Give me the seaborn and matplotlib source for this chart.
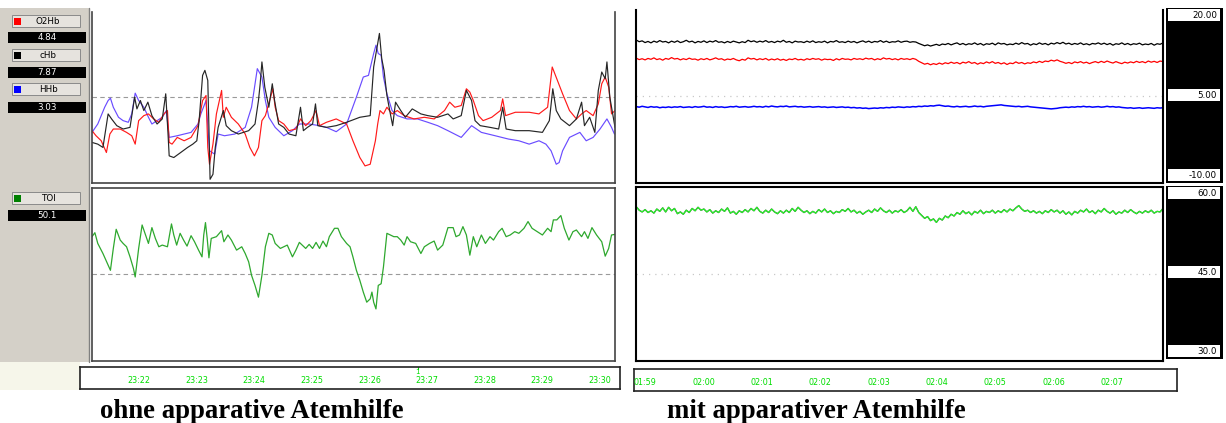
import numpy as np
import pandas as pd
import matplotlib
matplotlib.use("Agg")
import matplotlib.pyplot as plt
import matplotlib.transforms as mtransforms
from matplotlib.patches import Rectangle
import seaborn as sns

# ---------------- data ----------------
# left recording (time in minutes after 23:00), concentrations in umol/l, TOI in %
o2hb_t = [21.18, 21.25, 21.34, 21.43, 21.49, 21.55, 21.67, 21.78, 21.87, 21.93, 21.99, 22.08, 22.16, 22.25,
          22.34, 22.43, 22.49, 22.52, 22.57, 22.66, 22.78, 22.90, 23.02, 23.10, 23.16, 23.19, 23.22, 23.28,
          23.34, 23.43, 23.46, 23.51, 23.60, 23.72, 23.84, 23.92, 24.00, 24.07, 24.13, 24.19, 24.28, 24.32,
          24.36, 24.42, 24.51, 24.60, 24.72, 24.80, 24.89, 24.98, 25.07, 25.13, 25.25, 25.42, 25.60, 25.71,
          25.83, 25.92, 26.01, 26.10, 26.14, 26.18, 26.24, 26.30, 26.39, 26.48, 26.60, 26.77, 26.95, 27.12,
          27.30, 27.39, 27.48, 27.59, 27.68, 27.74, 27.80, 27.89, 27.97, 28.12, 28.27, 28.31, 28.36, 28.53,
          28.77, 28.94, 29.09, 29.17, 29.26, 29.35, 29.47, 29.59, 29.68, 29.76, 29.88, 29.97, 30.03, 30.09,
          30.15, 30.20, 30.26]
o2hb_v = [-0.82, -1.71, -2.59, -4.65, -1.41, -0.53, -0.53, -1.12, -1.71, -3.18, 0.94, 1.82, 2.12, 1.24,
          0.65, 2.12, 2.71, -2.88, -3.18, -2.00, -2.59, -2.00, 0.06, 4.47, 5.35, -3.76, -6.71, -3.18,
          2.12, 6.24, 1.53, 3.29, 1.53, 0.35, -1.41, -3.76, -5.24, -3.76, 0.94, 1.82, 5.06, 6.53,
          3.29, 0.94, 0.35, -0.82, -0.53, 1.24, 0.06, 0.94, 2.71, 0.06, 0.65, 1.24, 0.35, -2.59,
          -5.53, -7.00, -6.71, -2.59, 0.35, 2.71, 2.12, 3.29, 2.12, 2.71, 1.82, 1.24, 1.53, 1.24,
          2.71, 4.18, 3.29, 3.59, 6.53, 5.94, 4.47, 1.82, 0.94, 1.53, 2.71, 4.76, 1.82, 2.41,
          2.41, 2.12, 3.29, 10.35, 8.00, 5.65, 2.71, 1.24, 2.12, 2.71, 1.82, 3.88, 7.41, 8.59,
          6.82, 2.12, 2.71]

chb_t = [21.18, 21.28, 21.37, 21.46, 21.52, 21.61, 21.72, 21.84, 21.92, 21.96, 22.02, 22.08, 22.15, 22.22,
         22.31, 22.40, 22.46, 22.50, 22.52, 22.60, 22.72, 22.84, 22.93, 23.00, 23.04, 23.10, 23.14, 23.19,
         23.21, 23.23, 23.28, 23.32, 23.37, 23.46, 23.51, 23.60, 23.72, 23.90, 24.01, 24.07, 24.10, 24.13,
         24.18, 24.25, 24.31, 24.35, 24.42, 24.51, 24.60, 24.72, 24.80, 24.85, 24.92, 25.01, 25.06, 25.10,
         25.25, 25.42, 25.60, 25.83, 26.01, 26.07, 26.13, 26.17, 26.21, 26.25, 26.30, 26.36, 26.40, 26.45,
         26.54, 26.62, 26.74, 26.89, 27.01, 27.18, 27.36, 27.45, 27.59, 27.68, 27.77, 27.83, 27.92, 28.09,
         28.24, 28.31, 28.37, 28.53, 28.77, 29.00, 29.12, 29.18, 29.24, 29.32, 29.47, 29.59, 29.68, 29.73,
         29.82, 29.91, 29.97, 30.03, 30.09, 30.12, 30.17, 30.26]
chb_v = [-2.88, -3.18, -3.76, 2.12, 1.24, 0.06, -0.53, -0.24, 5.06, 3.00, 4.47, 2.71, 4.18, 1.82,
         0.35, 1.24, 5.65, -1.41, -5.24, -5.53, -4.65, -3.76, -3.18, -2.59, 0.94, 8.88, 9.76, 8.00,
         -0.24, -9.35, -8.47, -3.76, -0.24, 2.71, 0.06, -0.82, -1.41, -0.82, 0.35, 4.47, 7.41, 11.24,
         6.82, 3.29, 7.41, 4.47, 0.35, -0.24, -1.41, -1.71, 3.29, -0.82, -0.24, 0.35, 3.88, 0.06,
         -0.24, 0.06, 0.65, 1.53, 1.82, 10.35, 13.88, 16.24, 11.82, 9.76, 5.35, 2.12, 0.06, 4.18,
         2.71, 1.53, 3.00, 2.12, 1.82, 1.53, 2.12, 1.24, 1.82, 6.24, 4.47, 0.94, 0.06, -0.24,
         -0.53, 3.29, -0.53, -0.82, -0.82, -1.12, 0.94, 6.53, 2.71, 1.24, 0.06, 1.24, 4.18, 0.06,
         1.53, -1.12, 6.24, 9.47, 8.29, 11.24, 5.06, -0.24]

hhb_t = [21.18, 21.28, 21.40, 21.46, 21.50, 21.55, 21.64, 21.72, 21.81, 21.87, 21.93, 21.99, 22.08, 22.16,
         22.22, 22.31, 22.40, 22.47, 22.52, 22.66, 22.78, 22.90, 23.02, 23.07, 23.16, 23.22, 23.31, 23.37,
         23.48, 23.66, 23.84, 23.95, 24.05, 24.13, 24.19, 24.25, 24.36, 24.51, 24.66, 24.78, 24.95, 25.13,
         25.25, 25.42, 25.60, 25.77, 25.89, 25.98, 26.07, 26.11, 26.15, 26.20, 26.24, 26.30, 26.39, 26.48,
         26.65, 26.83, 27.01, 27.18, 27.36, 27.59, 27.77, 27.94, 28.18, 28.41, 28.59, 28.77, 28.94, 29.06,
         29.15, 29.24, 29.29, 29.35, 29.47, 29.65, 29.76, 29.88, 30.00, 30.12, 30.20, 30.25]
hhb_v = [-1.12, 0.35, 3.29, 4.47, 4.88, 3.29, 1.53, 0.94, 0.65, 2.12, 5.76, 4.47, 3.29, 1.53,
         0.35, 0.94, 1.53, 2.71, -2.00, -1.71, -1.41, -1.12, 0.35, 2.12, 4.47, -4.35, -4.94, -1.41,
         -1.71, -1.41, -0.24, 3.29, 10.06, 8.59, 4.47, 1.53, -0.24, -1.71, -0.82, 0.35, 0.35, 0.06,
         -0.24, -1.00, 0.35, 5.06, 8.59, 8.88, 12.71, 14.18, 12.71, 12.41, 8.59, 5.65, 2.71, 1.82,
         1.24, 1.24, 0.65, 0.06, -0.82, -2.00, 0.06, -1.12, -1.71, -2.29, -2.59, -3.18, -2.59, -3.18,
         -4.35, -6.71, -6.41, -4.35, -2.00, -1.12, -2.59, -2.00, -0.53, 1.24, -0.24, -1.41]

toi_t = [21.18, 21.23, 21.28, 21.37, 21.46, 21.50, 21.55, 21.60, 21.67, 21.72, 21.78, 21.84, 21.90, 21.93,
         21.99, 22.05, 22.11, 22.16, 22.22, 22.28, 22.34, 22.40, 22.49, 22.56, 22.60, 22.65, 22.71, 22.77,
         22.83, 22.90, 22.96, 23.03, 23.09, 23.12, 23.15, 23.18, 23.21, 23.25, 23.34, 23.43, 23.47, 23.54,
         23.60, 23.69, 23.78, 23.84, 23.90, 23.95, 24.01, 24.07, 24.13, 24.19, 24.25, 24.31, 24.36, 24.45,
         24.51, 24.57, 24.66, 24.72, 24.78, 24.83, 24.89, 24.95, 25.01, 25.07, 25.13, 25.19, 25.25, 25.30,
         25.39, 25.45, 25.51, 25.60, 25.66, 25.71, 25.77, 25.83, 25.89, 25.95, 26.01, 26.04, 26.07, 26.11,
         26.15, 26.20, 26.24, 26.30, 26.36, 26.42, 26.48, 26.54, 26.60, 26.65, 26.71, 26.80, 26.89, 26.95,
         27.04, 27.12, 27.18, 27.27, 27.36, 27.45, 27.50, 27.56, 27.62, 27.68, 27.74, 27.80, 27.86, 27.94,
         28.01, 28.09, 28.15, 28.24, 28.30, 28.37, 28.44, 28.52, 28.59, 28.68, 28.75, 28.82, 28.91, 29.00,
         29.09, 29.15, 29.19, 29.25, 29.32, 29.38, 29.46, 29.53, 29.59, 29.68, 29.73, 29.79, 29.86, 29.94,
         30.03, 30.09, 30.15, 30.20, 30.26]
toi_v = [51.56, 52.25, 50.39, 48.64, 46.60, 45.73, 49.52, 52.84, 50.97, 50.39, 49.81, 48.06, 46.02, 44.57,
         49.52, 53.59, 51.85, 50.39, 53.13, 51.26, 49.81, 50.10, 49.81, 53.77, 51.85, 50.10, 52.14, 50.97,
         49.92, 51.73, 50.68, 49.23, 48.06, 51.85, 54.00, 51.26, 47.89, 51.26, 51.56, 52.60, 50.68, 51.85,
         50.97, 49.23, 49.81, 48.64, 47.19, 44.86, 43.11, 41.07, 44.86, 49.81, 52.14, 51.85, 50.39, 49.52,
         49.81, 50.10, 48.06, 49.23, 50.57, 50.10, 49.52, 50.22, 49.52, 50.57, 49.52, 50.80, 49.81, 51.56,
         53.01, 53.01, 51.56, 50.39, 49.81, 48.06, 45.73, 43.98, 41.95, 40.20, 40.78, 41.95, 40.20, 39.03,
         43.11, 43.40, 46.31, 52.14, 51.85, 51.56, 51.56, 50.97, 50.10, 51.56, 50.68, 50.39, 48.64, 49.81,
         50.39, 50.80, 49.23, 50.10, 53.13, 53.13, 51.56, 51.85, 53.30, 51.85, 48.35, 51.56, 49.81, 51.85,
         50.39, 51.56, 50.97, 52.43, 53.01, 51.56, 51.85, 52.43, 52.14, 53.01, 54.18, 53.01, 52.43, 51.85,
         53.01, 52.43, 54.47, 54.47, 55.22, 53.01, 50.97, 52.43, 52.72, 51.56, 52.43, 51.26, 53.13, 51.85,
         50.68, 48.18, 49.52, 51.85, 51.96]

# right recording (time in minutes after 01:00), sampled evenly
right_t = np.linspace(58.85, 67.87, 180)
chb_r = [14.8, 14.5, 14.65, 14.35, 14.55, 14.3, 14.6, 14.4, 14.7, 14.45, 14.55, 14.3,
         14.6, 14.4, 14.65, 14.35, 14.5, 14.75, 14.45, 14.6, 14.3, 14.55, 14.4, 14.65,
         14.35, 14.6, 14.45, 14.7, 14.4, 14.5, 14.3, 14.55, 14.35, 14.6, 14.45, 14.3,
         14.5, 14.35, 14.75, 14.5, 14.65, 14.4, 14.6, 14.45, 14.7, 14.4, 14.55, 14.35,
         14.6, 14.45, 14.75, 14.4, 14.55, 14.3, 14.6, 14.45, 14.5, 14.35, 14.6, 14.4,
         14.65, 14.35, 14.5, 14.4, 14.6, 14.3, 14.55, 14.45, 14.7, 14.4, 14.5, 14.35,
         14.6, 14.4, 14.55, 14.3, 14.5, 14.65, 14.4, 14.6, 14.35, 14.55, 14.45, 14.7,
         14.4, 14.6, 14.35, 14.5, 14.45, 14.65, 14.4, 14.55, 14.6, 14.4, 14.5, 14.45,
         14.2, 14.0, 13.8, 13.95, 13.75, 13.9, 14.05, 13.85, 14.1, 14.0, 14.2, 13.95,
         14.15, 14.3, 14.0, 14.2, 13.95, 14.15, 14.05, 14.3, 14.0, 14.2, 13.9, 14.15,
         14.05, 14.25, 13.95, 14.3, 14.1, 14.2, 13.95, 14.1, 14.0, 14.25, 14.05, 14.35,
         14.1, 14.2, 13.9, 14.15, 14.0, 14.3, 14.05, 14.2, 13.95, 14.25, 14.1, 14.35,
         14.15, 14.4, 14.1, 14.25, 14.0, 14.2, 14.05, 14.3, 14.0, 14.15, 13.95, 14.2,
         14.1, 14.3, 14.05, 14.25, 14.0, 14.2, 13.9, 14.15, 14.05, 14.3, 14.0, 14.2,
         13.95, 14.15, 14.05, 14.25, 13.95, 14.1, 14.0, 14.2, 13.9, 14.15, 14.05, 14.3]
o2hb_r = [11.65, 11.4, 11.55, 11.35, 11.6, 11.45, 11.7, 11.4, 11.55, 11.3, 11.6, 11.45,
          11.75, 11.5, 11.6, 11.35, 11.55, 11.4, 11.65, 11.45, 11.5, 11.3, 11.55, 11.4,
          11.6, 11.35, 11.5, 11.7, 11.45, 11.55, 11.3, 11.5, 11.4, 11.6, 11.35, 11.2,
          11.45, 11.3, 11.7, 11.5, 11.6, 11.35, 11.55, 11.4, 11.6, 11.3, 11.5, 11.35,
          11.55, 11.3, 11.45, 11.25, 11.5, 11.4, 11.6, 11.35, 11.45, 11.3, 11.55, 11.4,
          11.6, 11.45, 11.55, 11.3, 11.5, 11.4, 11.45, 11.25, 11.55, 11.35, 11.6, 11.45,
          11.5, 11.35, 11.6, 11.45, 11.55, 11.4, 11.65, 11.5, 11.6, 11.35, 11.55, 11.4,
          11.7, 11.5, 11.6, 11.4, 11.55, 11.35, 11.6, 11.45, 11.55, 11.4, 11.6, 11.45,
          11.1, 10.85, 10.6, 10.75, 10.5, 10.7, 10.55, 10.8, 10.6, 10.85, 10.7, 10.95,
          10.75, 10.9, 10.65, 10.95, 10.8, 11.05, 10.75, 10.9, 10.6, 10.85, 10.7, 11.0,
          10.8, 11.05, 10.75, 10.9, 10.65, 10.85, 10.55, 10.8, 10.7, 11.0, 10.75, 10.9,
          10.65, 10.85, 10.75, 11.0, 10.85, 11.1, 10.9, 11.15, 11.05, 11.3, 11.15, 11.35,
          11.1, 10.95, 10.75, 10.9, 10.7, 11.0, 10.85, 11.05, 10.8, 10.95, 10.7, 10.9,
          11.05, 10.85, 11.1, 10.9, 11.15, 10.95, 10.8, 11.05, 10.85, 10.7, 10.95, 10.8,
          11.0, 10.85, 11.1, 10.9, 11.05, 10.85, 11.15, 10.95, 11.1, 10.9, 11.15, 11.05]
hhb_r = [3.25, 3.15, 3.3, 3.2, 3.1, 3.25, 3.15, 3.2, 3.05, 3.15, 3.1, 3.2,
         3.1, 3.2, 3.15, 3.25, 3.1, 3.15, 3.2, 3.1, 3.25, 3.15, 3.2, 3.3,
         3.15, 3.2, 3.1, 3.25, 3.15, 3.2, 3.1, 3.15, 3.25, 3.2, 3.3, 3.15,
         3.2, 3.25, 3.15, 3.2, 3.3, 3.2, 3.25, 3.15, 3.3, 3.2, 3.35, 3.25,
         3.2, 3.3, 3.25, 3.35, 3.2, 3.25, 3.3, 3.2, 3.25, 3.15, 3.2, 3.25,
         3.15, 3.2, 3.25, 3.15, 3.2, 3.1, 3.15, 3.2, 3.1, 3.15, 3.2, 3.1,
         3.15, 3.05, 3.1, 3.0, 3.05, 2.95, 3.0, 2.9, 2.95, 3.0, 2.95, 3.05,
         3.0, 3.1, 3.05, 3.15, 3.1, 3.2, 3.15, 3.1, 3.2, 3.15, 3.25, 3.2,
         3.3, 3.25, 3.35, 3.3, 3.4, 3.35, 3.45, 3.5, 3.4, 3.3, 3.35, 3.25,
         3.2, 3.3, 3.2, 3.25, 3.3, 3.2, 3.25, 3.35, 3.25, 3.3, 3.2, 3.3,
         3.35, 3.4, 3.45, 3.5, 3.55, 3.45, 3.4, 3.35, 3.3, 3.25, 3.3, 3.2,
         3.25, 3.3, 3.2, 3.15, 3.1, 3.05, 3.0, 2.95, 2.9, 2.85, 2.9, 2.95,
         3.05, 3.1, 3.15, 3.1, 3.2, 3.15, 3.25, 3.2, 3.3, 3.2, 3.25, 3.15,
         3.2, 3.25, 3.15, 3.2, 3.3, 3.2, 3.25, 3.15, 3.2, 3.1, 3.05, 3.0,
         3.05, 2.95, 3.0, 3.05, 2.95, 3.0, 3.05, 3.0, 2.95, 3.05, 3.0, 3.05]
toi_r = [56.6, 56.0, 55.7, 56.1, 55.6, 55.9, 55.5, 56.2, 55.8, 56.4, 55.7, 56.5,
         55.9, 56.3, 55.4, 55.7, 55.3, 56.0, 55.6, 56.3, 55.9, 56.5, 56.0, 56.2,
         55.7, 56.1, 55.5, 55.9, 55.6, 56.2, 55.8, 56.4, 55.5, 55.8, 55.3, 55.9,
         55.6, 56.1, 55.7, 56.3, 55.9, 56.5, 55.8, 55.5, 56.0, 55.6, 56.2, 55.7,
         55.4, 55.9, 55.5, 56.0, 55.6, 56.3, 55.8, 56.5, 56.0, 55.6, 55.9, 55.4,
         55.8, 55.5, 56.1, 55.7, 56.2, 55.6, 55.9, 55.4, 55.8, 55.6, 56.1, 55.8,
         56.3, 55.7, 56.0, 55.5, 55.8, 55.3, 55.7, 56.0, 55.6, 56.2, 55.8, 56.4,
         55.9, 55.6, 56.0, 55.5, 55.9, 55.7, 56.1, 55.6, 55.9, 56.5, 55.8, 56.6,
         55.6, 55.1, 54.6, 54.9, 54.2, 54.5, 53.9, 54.6, 54.3, 55.0, 54.7, 55.3,
         55.0, 55.6, 55.3, 55.9, 55.4, 55.7, 55.2, 55.8, 55.5, 56.0, 55.4, 55.8,
         55.6, 56.0, 55.5, 55.9, 55.6, 56.1, 55.7, 56.2, 55.9, 56.4, 56.8, 56.2,
         55.8, 56.0, 55.6, 55.9, 55.5, 55.8, 55.4, 55.9, 55.6, 56.1, 55.7, 56.0,
         55.5, 55.9, 55.3, 55.7, 55.2, 55.8, 55.5, 56.0, 55.7, 56.2, 55.6, 55.9,
         55.4, 56.0, 55.7, 56.3, 55.8, 55.5, 55.9, 55.3, 55.7, 55.5, 56.0, 55.6,
         56.1, 55.7, 55.4, 55.8, 55.5, 55.9, 55.6, 56.0, 55.5, 55.8, 55.7, 56.3]

left_tick_pos = [22, 23, 24, 25, 26, 27, 28, 29, 30]
left_tick_lab = ["23:22", "23:23", "23:24", "23:25", "23:26", "23:27", "23:28", "23:29", "23:30"]
right_tick_pos = [59, 60, 61, 62, 63, 64, 65, 66, 67]
right_tick_lab = ["01:59", "02:00", "02:01", "02:02", "02:03", "02:04", "02:05", "02:06", "02:07"]
legend_names = ["O2Hb", "cHb", "HHb"]
legend_values = ["4.84", "7.87", "3.03"]
legend_colors = ["#ff0000", "#000000", "#0000ff"]
toi_name, toi_value = "TOI", "50.1"
conc_scale = ["20.00", "5.00", "-10.00"]
toi_scale = ["60.0", "45.0", "30.0"]

# ---------------- figure ----------------
sns.set_style("white")
plt.rcParams["font.family"] = ["DejaVu Sans"]
W, H = 1226, 423
fig = plt.figure(figsize=(W / 100, H / 100), dpi=100)
fig.patch.set_facecolor("white")

bg = fig.add_axes([0, 0, 1, 1])
bg.set_xlim(0, W)
bg.set_ylim(H, 0)
bg.axis("off")


def px_axes(x0, y0, x1, y1):
    return fig.add_axes([x0 / W, 1 - y1 / H, (x1 - x0) / W, (y1 - y0) / H])


# sidebar
bg.add_patch(Rectangle((0, 8), 90, 354, fc="#d4d0c8", ec="none"))
bg.add_patch(Rectangle((0, 362), 80, 28, fc="#f6f6ea", ec="none"))
bg.plot([89, 89], [8, 362], color="#808080", lw=1.0)
btn_y = [15, 49, 83]
val_y = [32, 67, 102]
for name, val, col, by, vy in zip(legend_names, legend_values, legend_colors, btn_y, val_y):
    bg.add_patch(Rectangle((12, by), 68, 12, fc="#e6e3de", ec="#8a8a8a", lw=0.7))
    bg.add_patch(Rectangle((14, by + 3), 7, 7, fc=col, ec="none"))
    bg.text(48, by + 6.3, name, ha="center", va="center", fontsize=6.3, color="black")
    bg.add_patch(Rectangle((8, vy), 78, 11, fc="black", ec="none"))
    bg.text(47, vy + 5.8, val, ha="center", va="center", fontsize=6.3, color="white")
bg.add_patch(Rectangle((12, 192), 68, 12, fc="#e6e3de", ec="#8a8a8a", lw=0.7))
bg.add_patch(Rectangle((14, 195), 7, 7, fc="#008000", ec="none"))
bg.text(48, 198.3, toi_name, ha="center", va="center", fontsize=6.3, color="black")
bg.add_patch(Rectangle((8, 210), 78, 11, fc="black", ec="none"))
bg.text(47, 215.8, toi_value, ha="center", va="center", fontsize=6.3, color="white")

# right scale columns
for (y0, y1, labels) in [(8, 183, conc_scale), (186, 359, toi_scale)]:
    bg.add_patch(Rectangle((1166, y0), 57, y1 - y0, fc="black", ec="none"))
    boxes = [y0 + 1, (y0 + y1) / 2 - 6, y1 - 14]
    for by, lab in zip(boxes, labels):
        bg.add_patch(Rectangle((1168, by), 52, 12, fc="white", ec="none"))
        bg.text(1217, by + 6.3, lab, ha="right", va="center", fontsize=6.3, color="black")


def style_panel(ax, xlim, ylim, spine_col, lw):
    ax.set_xlim(*xlim)
    ax.set_ylim(*ylim)
    ax.set_xticks([])
    ax.set_yticks([])
    ax.set_xlabel("")
    ax.set_ylabel("")
    for s in ["left", "right", "bottom", "top"]:
        ax.spines[s].set_color(spine_col)
        ax.spines[s].set_linewidth(lw)
    ax.spines["top"].set_visible(False)


LXL = (21.18, 30.26)
RXL = (58.846, 67.87)

# left top: concentrations
ax1 = px_axes(92, 12, 615, 183)
ax1.axhline(5, color="#9a9a9a", lw=0.8, ls=(0, (4, 3)))
sns.lineplot(x=hhb_t, y=hhb_v, ax=ax1, color="#6a4cff", lw=0.85, estimator=None)
sns.lineplot(x=o2hb_t, y=o2hb_v, ax=ax1, color="#ff1a1a", lw=0.85, estimator=None)
sns.lineplot(x=chb_t, y=chb_v, ax=ax1, color="#262626", lw=0.85, estimator=None)
style_panel(ax1, LXL, (-10, 20), "#444444", 1.2)

# left bottom: TOI
ax2 = px_axes(92, 188, 615, 361)
ax2.axhline(45, color="#9a9a9a", lw=0.8, ls=(0, (4, 3)))
sns.lineplot(x=toi_t, y=toi_v, ax=ax2, color="#2ea82e", lw=0.9, estimator=None)
style_panel(ax2, LXL, (30, 60), "#444444", 1.2)
ax2.spines["top"].set_visible(True)

# right top
ax3 = px_axes(636, 10, 1163, 183)
ax3.axhline(5, color="#c8c8c8", lw=0.9, ls=(0, (1, 4)))
sns.lineplot(x=right_t, y=chb_r, ax=ax3, color="black", lw=0.9, estimator=None)
sns.lineplot(x=right_t, y=o2hb_r, ax=ax3, color="#ff0000", lw=0.9, estimator=None)
sns.lineplot(x=right_t, y=hhb_r, ax=ax3, color="#0000ff", lw=1.1, estimator=None)
style_panel(ax3, RXL, (-10, 20), "black", 1.5)

# right bottom
ax4 = px_axes(636, 187, 1163, 361)
ax4.axhline(45, color="#c8c8c8", lw=0.9, ls=(0, (1, 4)))
sns.lineplot(x=right_t, y=toi_r, ax=ax4, color="#505050", lw=1.0, estimator=None)
sns.lineplot(x=right_t, y=toi_r, ax=ax4, color="#22ff22", lw=0.8, estimator=None)
style_panel(ax4, RXL, (30, 60), "black", 1.5)
ax4.spines["top"].set_visible(True)


def time_axis(x0, y0, x1, y1, xlim, pos, labs, marker=None):
    ax = px_axes(x0, y0, x1, y1)
    ax.set_xlim(*xlim)
    ax.set_ylim(0, 1)
    ax.set_yticks([])
    ax.set_xticks(pos)
    ax.tick_params(axis="x", direction="in", length=2, color="#00dd00", labelbottom=False, width=0.8)
    tr = mtransforms.blended_transform_factory(ax.transData, ax.transAxes)
    for p, l in zip(pos, labs):
        ax.text(p, 0.38, l, transform=tr, ha="center", va="center", fontsize=5.8, color="#00dd00")
    if marker is not None:
        ax.text(marker, 0.78, "1", transform=tr, ha="center", va="center", fontsize=5, color="#00dd00")
        ax.plot([marker, marker], [0.92, 1.0], transform=tr, color="#00dd00", lw=0.8)
    for s in ax.spines.values():
        s.set_color("#222222")
        s.set_linewidth(1.2)
    return ax


time_axis(80, 367, 620, 389, (20.976, 30.351), left_tick_pos, left_tick_lab, marker=26.84)
time_axis(634, 369, 1177, 391, (58.81, 68.11), right_tick_pos, right_tick_lab)

# captions
bg.text(100, 411, "ohne apparative Atemhilfe", ha="left", va="center", fontsize=19.3,
        fontweight="bold", family="Liberation Serif", color="black")
bg.text(667, 411, "mit apparativer Atemhilfe", ha="left", va="center", fontsize=19.3,
        fontweight="bold", family="Liberation Serif", color="black")

fig.savefig("out.png", dpi=100, facecolor="white")
